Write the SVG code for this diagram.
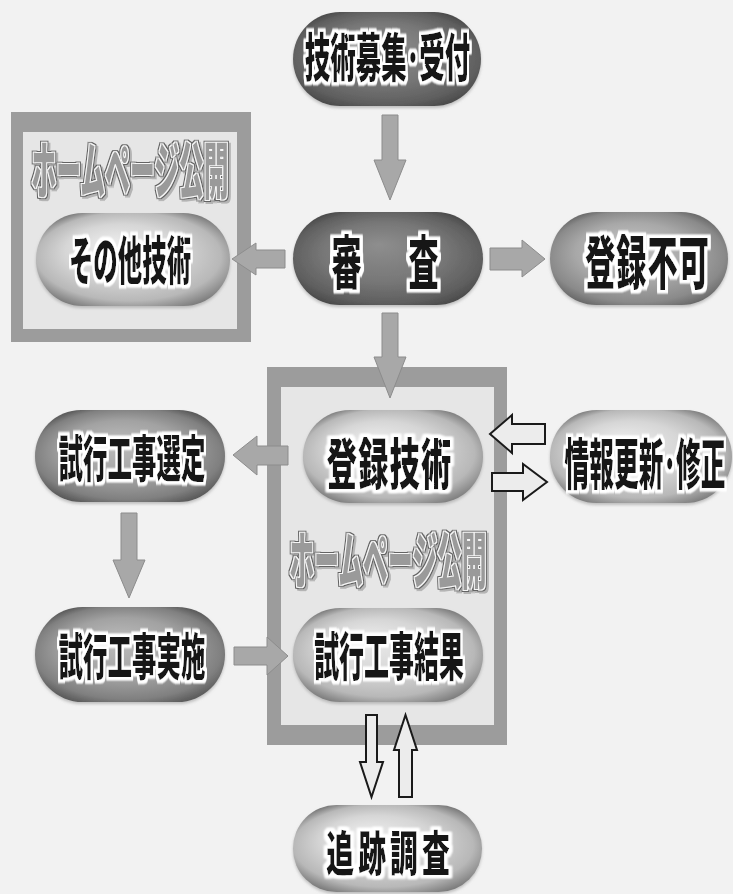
<svg xmlns="http://www.w3.org/2000/svg" width="733" height="894" viewBox="0 0 733 894">
<defs>
<radialGradient id="gDark" cx="50%" cy="50%" r="58%" fx="45%" fy="35%">
<stop offset="0" stop-color="#8e8e8e"/><stop offset="0.55" stop-color="#777"/><stop offset="0.85" stop-color="#606060"/><stop offset="1" stop-color="#4a4a4a"/>
</radialGradient>
<radialGradient id="gMid" cx="50%" cy="50%" r="58%" fx="42%" fy="35%">
<stop offset="0" stop-color="#c4c4c4"/><stop offset="0.55" stop-color="#a8a8a8"/><stop offset="0.85" stop-color="#8a8a8a"/><stop offset="1" stop-color="#666"/>
</radialGradient>
<radialGradient id="gMid2" cx="50%" cy="50%" r="58%" fx="42%" fy="35%">
<stop offset="0" stop-color="#bcbcbc"/><stop offset="0.55" stop-color="#a2a2a2"/><stop offset="0.85" stop-color="#808080"/><stop offset="1" stop-color="#585858"/>
</radialGradient>
<radialGradient id="gLight" cx="50%" cy="50%" r="58%" fx="38%" fy="32%">
<stop offset="0" stop-color="#ececec"/><stop offset="0.5" stop-color="#d6d6d6"/><stop offset="0.82" stop-color="#b8b8b8"/><stop offset="1" stop-color="#7c7c7c"/>
</radialGradient>
<filter id="halo" x="-10%" y="-20%" width="120%" height="140%">
<feMorphology in="SourceAlpha" operator="dilate" radius="5 2.5" result="d"/>
<feGaussianBlur in="d" stdDeviation="1.5 1" result="b"/>
<feFlood flood-color="#ffffff"/>
<feComposite in2="b" operator="in" result="w"/>
<feMerge><feMergeNode in="w"/><feMergeNode in="w"/><feMergeNode in="SourceGraphic"/></feMerge>
</filter>
<filter id="outline" x="-10%" y="-20%" width="125%" height="150%">
<feMorphology in="SourceAlpha" operator="dilate" radius="5.5 2.2" result="d2"/>
<feMorphology in="SourceAlpha" operator="dilate" radius="3.5 1.4" result="d1"/>
<feOffset in="d2" dx="4" dy="2" result="sh"/>
<feFlood flood-color="#b4b4b4"/><feComposite in2="sh" operator="in" result="shc"/>
<feFlood flood-color="#646464"/><feComposite in2="d2" operator="in" result="dk"/>
<feFlood flood-color="#f6f6f6"/><feComposite in2="d1" operator="in" result="wt"/>
<feMerge><feMergeNode in="shc"/><feMergeNode in="dk"/><feMergeNode in="wt"/><feMergeNode in="SourceGraphic"/></feMerge>
</filter>
<filter id="soft" x="-5%" y="-10%" width="110%" height="125%">
<feDropShadow dx="0" dy="2" stdDeviation="1.5" flood-color="#999" flood-opacity="0.6"/>
</filter>
</defs>
<style>
.lbl { font-family: "Noto Sans CJK JP", "Noto Sans CJK SC", sans-serif; font-weight: 900; fill: #151515; text-anchor: middle; dominant-baseline: central; }
.ttl { font-family: "Noto Sans CJK JP", "Noto Sans CJK SC", sans-serif; font-weight: 900; fill: #9a9a9a; text-anchor: middle; dominant-baseline: central; }
.frame { fill: #9c9c9c; }
.inner { fill: #e6e6e6; }
.solid { fill: #a8a8a8; stroke: #8c8c8c; stroke-width: 1; }
.hollow { fill: #ececec; stroke: #1a1a1a; stroke-width: 2; stroke-linejoin: miter; }
</style>
<rect width="733" height="894" fill="#f2f2f2"/>

<g id="frame-left">
<rect class="frame" x="11" y="112" width="240" height="230"/>
<rect class="inner" x="23" y="132" width="214" height="197"/>
<text class="ttl" filter="url(#outline)" transform="translate(130,167) scale(0.4,1)" font-size="62">ホームページ公開</text>
</g>

<g id="frame-right">
<rect class="frame" x="267" y="367" width="240" height="378"/>
<rect class="inner" x="281" y="387" width="213" height="338"/>
<text class="ttl" filter="url(#outline)" transform="translate(388,557) scale(0.4,1)" font-size="62">ホームページ公開</text>
</g>

<g id="connectors">
<polygon class="solid" points="382,115 398,115 398,160 406,160 390,200 374,160 382,160"/>
<polygon class="solid" points="382,313 398,313 398,357 406,357 390,398 374,357 382,357"/>
<polygon class="solid" points="285,250 285,268 256,268 256,275 232,259 256,243 256,250"/>
<polygon class="solid" points="490,248 522,248 522,240 545,259 522,277 522,270 490,270"/>
<polygon class="solid" points="288,446 288,465 257,465 257,475 233,455 257,436 257,446"/>
<polygon class="solid" points="121,513 137,513 137,560 145,560 129,598 113,560 121,560"/>
<polygon class="solid" points="234,647 267,647 267,637 288,656 267,675 267,665 234,665"/>
<polygon class="hollow" points="545,424 545,444 512,444 512,453 490,434 512,415 512,424"/>
<polygon class="hollow" points="492,473 523,473 523,464 547,482 523,500 523,491 492,491"/>
<polygon class="hollow" points="366,715 377,715 377,762 383,762 371.5,797 360,762 366,762"/>
<polygon class="hollow" points="399,797 412,797 412,750 417,750 405.5,715 394,750 399,750"/>
</g>

<g id="n-boshu">
<rect x="293" y="12" width="188" height="94" rx="47" fill="url(#gDark)" filter="url(#soft)"/>
<text class="lbl" filter="url(#halo)" transform="translate(387.5,55) scale(0.49,1)" font-size="52">技術募集･受付</text>
</g>
<g id="n-shinsa">
<rect x="293" y="212" width="190" height="93" rx="46.5" fill="url(#gDark)" filter="url(#soft)"/>
<text class="lbl" filter="url(#halo)" transform="translate(385,258) scale(0.52,1)" font-size="58" letter-spacing="16" x="8">審　査</text>
</g>
<g id="n-fuka">
<rect x="550" y="212" width="178" height="93" rx="46.5" fill="url(#gMid)" filter="url(#soft)"/>
<text class="lbl" filter="url(#halo)" transform="translate(647,258) scale(0.52,1)" font-size="58" letter-spacing="2" x="1">登録不可</text>
</g>
<g id="n-sonota">
<rect x="36" y="213" width="194" height="93" rx="46.5" fill="url(#gLight)" filter="url(#soft)"/>
<text class="lbl" filter="url(#halo)" transform="translate(130,258) scale(0.47,1)" font-size="52">その他技術</text>
</g>
<g id="n-toroku">
<rect x="303" y="410" width="180" height="93" rx="46.5" fill="url(#gLight)" filter="url(#soft)"/>
<text class="lbl" filter="url(#halo)" transform="translate(389,460) scale(0.55,1)" font-size="55" letter-spacing="2" x="1">登録技術</text>
</g>
<g id="n-joho">
<rect x="550" y="410" width="182" height="93" rx="46.5" fill="url(#gLight)" filter="url(#soft)"/>
<text class="lbl" filter="url(#halo)" transform="translate(645,460) scale(0.45,1)" font-size="55">情報更新･修正</text>
</g>
<g id="n-sentei">
<rect x="35" y="410" width="190" height="92" rx="46" fill="url(#gMid2)" filter="url(#soft)"/>
<text class="lbl" filter="url(#halo)" transform="translate(132,455) scale(0.49,1)" font-size="50">試行工事選定</text>
</g>
<g id="n-jisshi">
<rect x="35" y="607" width="190" height="95" rx="47.5" fill="url(#gMid2)" filter="url(#soft)"/>
<text class="lbl" filter="url(#halo)" transform="translate(132,653) scale(0.49,1)" font-size="50">試行工事実施</text>
</g>
<g id="n-kekka">
<rect x="293" y="608" width="190" height="94" rx="47" fill="url(#gLight)" filter="url(#soft)"/>
<text class="lbl" filter="url(#halo)" transform="translate(389,654) scale(0.48,1)" font-size="52">試行工事結果</text>
</g>
<g id="n-tsuiseki">
<rect x="293" y="805" width="189" height="87" rx="43.5" fill="url(#gLight)" filter="url(#soft)"/>
<text class="lbl" filter="url(#halo)" transform="translate(388,850) scale(0.58,1)" font-size="48" letter-spacing="7" x="3.5">追跡調査</text>
</g>
</svg>
